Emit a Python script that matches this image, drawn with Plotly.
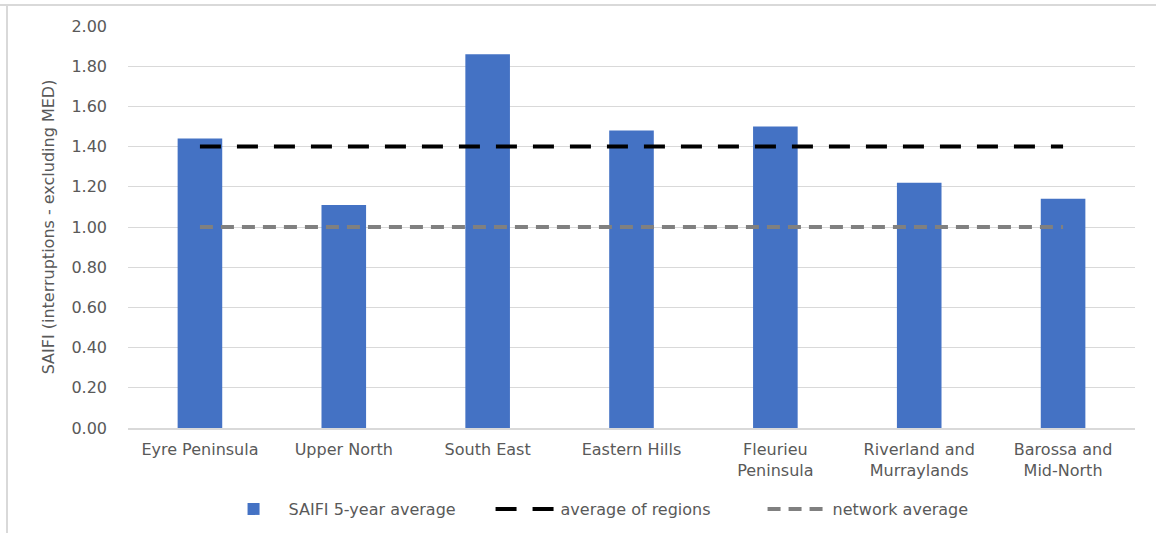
import plotly.graph_objects as go

# Regions and their 5-year average SAIFI (interruptions, excluding MED)
regions = [
    "Eyre Peninsula",
    "Upper North",
    "South East",
    "Eastern Hills",
    "Fleurieu<br>Peninsula",
    "Riverland and<br>Murraylands",
    "Barossa and<br>Mid-North",
]
saifi_5yr_avg = [1.44, 1.11, 1.86, 1.48, 1.50, 1.22, 1.14]
average_of_regions = [1.40] * len(regions)
network_average = [1.00] * len(regions)

y_ticks = [0.0, 0.2, 0.4, 0.6, 0.8, 1.0, 1.2, 1.4, 1.6, 1.8, 2.0]
y_tick_labels = [f"{v:.2f}" for v in y_ticks]

FONT = "DejaVu Sans"
SIZE = 16
TEXT_GREY = "#595959"

fig = go.Figure()

fig.add_trace(go.Bar(
    x=regions,
    y=saifi_5yr_avg,
    name="SAIFI 5-year average",
    marker=dict(color="#4472C4", line=dict(width=0)),
))

fig.add_trace(go.Scatter(
    x=regions,
    y=average_of_regions,
    name="average of regions",
    mode="lines",
    line=dict(color="#000000", width=4, dash="21px,16px"),
))

fig.add_trace(go.Scatter(
    x=regions,
    y=network_average,
    name="network average",
    mode="lines",
    line=dict(color="#808080", width=4, dash="13px,8px"),
))

fig.update_layout(
    width=1156,
    height=533,
    margin=dict(l=128, r=21, t=26, b=105, autoexpand=False),
    paper_bgcolor="white",
    plot_bgcolor="white",
    font=dict(family=FONT, size=SIZE, color=TEXT_GREY),
    bargap=0.69,
    showlegend=True,
    legend=dict(
        orientation="h",
        x=0.542,
        xanchor="center",
        xref="container",
        y=0.045,
        yanchor="middle",
        yref="container",
        font=dict(family=FONT, size=SIZE, color=TEXT_GREY),
        itemwidth=60,
        entrywidth=197,
        entrywidthmode="pixels",
        traceorder="normal",
    ),
    xaxis=dict(
        showgrid=False,
        showline=True,
        linecolor="#d9d9d9",
        linewidth=2,
        ticks="",
        ticklabelstandoff=6,
        tickfont=dict(family=FONT, size=SIZE, color=TEXT_GREY),
    ),
    yaxis=dict(
        range=[0, 2.0],
        tickvals=y_ticks,
        ticktext=y_tick_labels,
        showgrid=True,
        gridcolor="#d9d9d9",
        gridwidth=1,
        zeroline=False,
        ticks="",
        ticklabelstandoff=20,
        tickfont=dict(family=FONT, size=SIZE, color=TEXT_GREY),
        title=dict(
            text="SAIFI (interruptions - excluding MED)",
            font=dict(family=FONT, size=SIZE, color=TEXT_GREY),
            standoff=12,
        ),
    ),
    shapes=[
        dict(type="line", xref="paper", yref="paper",
             x0=-128 / 1007, x1=1.05, y0=1 + 21 / 402, y1=1 + 21 / 402,
             line=dict(color="#d9d9d9", width=2)),
        dict(type="line", xref="paper", yref="paper",
             x0=-121 / 1007, x1=-121 / 1007, y0=-0.3, y1=1 + 21 / 402,
             line=dict(color="#d9d9d9", width=2)),
    ],
)

fig.write_html("out.html")
